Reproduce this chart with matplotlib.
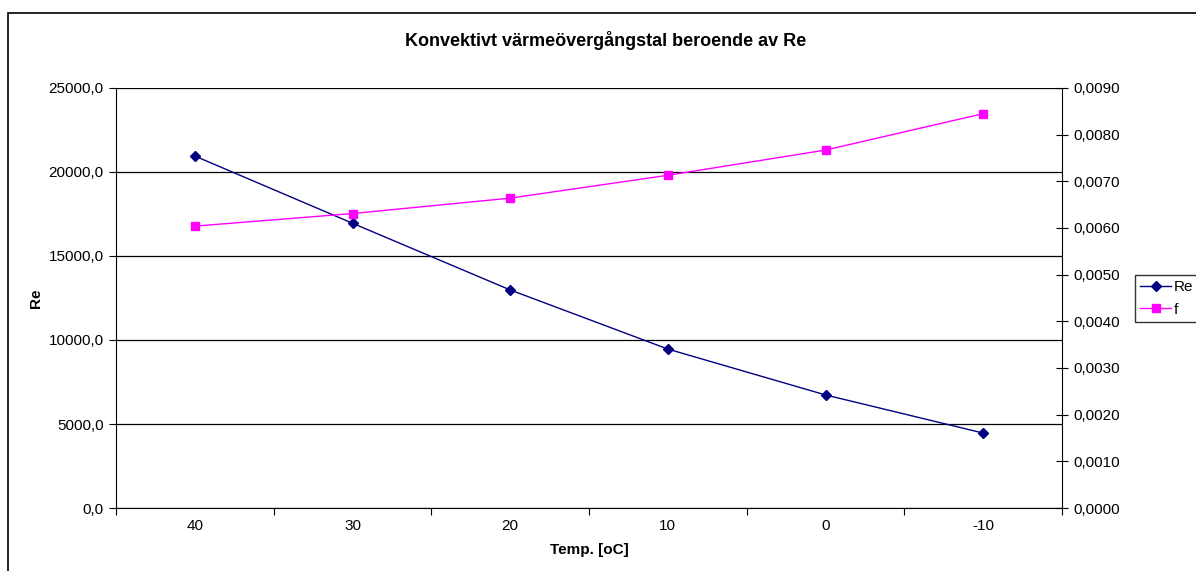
import matplotlib.pyplot as plt
from matplotlib.patches import Rectangle
from matplotlib.ticker import FuncFormatter, MultipleLocator, FixedLocator

plt.rcParams["font.family"] = ["Liberation Sans", "DejaVu Sans"]

temps = ["40", "30", "20", "10", "0", "-10"]
re_values = [20950, 16950, 12980, 9460, 6730, 4460]
f_values = [0.00604, 0.00631, 0.00664, 0.00713, 0.00767, 0.00845]

W, H = 1196, 571
fig = plt.figure(figsize=(W / 100, H / 100), dpi=100)

# outer chart border (runs off the right/bottom edge like the original)
fig.patches.append(Rectangle((8 / W, -0.1), 1.5, 1 - 13 / H + 0.1,
                             transform=fig.transFigure, fill=False,
                             edgecolor="black", linewidth=1.2, clip_on=False))

ax = fig.add_axes([116 / W, 1 - 508 / H, (1062 - 116) / W, (508 - 88) / H])
ax2 = ax.twinx()

x = [i + 0.5 for i in range(len(temps))]

ax.plot(x, re_values, color="#000080", marker="D", markersize=5,
        linewidth=1, label="Re")
ax2.plot(x, f_values, color="#FF00FF", marker="s", markersize=6,
         linewidth=1, label="f")

ax.set_xlim(0, len(temps))
ax.set_ylim(0, 25000)
ax2.set_ylim(0, 0.009)

# category axis: tick marks between categories, labels at centres
ax.xaxis.set_major_locator(FixedLocator(range(len(temps) + 1)))
ax.xaxis.set_minor_locator(FixedLocator(x))
ax.set_xticklabels([""] * (len(temps) + 1))
ax.set_xticklabels(temps, minor=True)
ax.tick_params(axis="x", which="major", length=5, direction="out")
ax.tick_params(axis="x", which="minor", length=0, pad=8, labelsize=11)

ax.yaxis.set_major_locator(MultipleLocator(5000))
ax.yaxis.set_major_formatter(FuncFormatter(lambda v, p: f"{v:.1f}".replace(".", ",")))
ax.tick_params(axis="y", length=5, direction="out", labelsize=11, pad=4)

ax2.yaxis.set_major_locator(MultipleLocator(0.001))
ax2.yaxis.set_major_formatter(FuncFormatter(lambda v, p: f"{v:.4f}".replace(".", ",")))
ax2.tick_params(axis="y", length=8, direction="inout", labelsize=11, pad=4)

ax.grid(axis="y", color="black", linewidth=0.9)
ax.set_axisbelow(True)
for a in (ax, ax2):
    a.spines["top"].set_visible(False)
ax.spines["right"].set_visible(False)
ax2.spines["left"].set_visible(False)
ax2.spines["bottom"].set_visible(False)
ax.axhline(25000, color="#808080", linewidth=1.2, zorder=0)

ax.set_xlabel("Temp. [oC]", fontsize=11, fontweight="bold", labelpad=7)
ax.set_ylabel("Re", fontsize=11, fontweight="bold", labelpad=4)

fig.text(0.506, 1 - 40 / H, "Konvektivt värmeövergångstal beroende av Re",
         ha="center", va="center", fontsize=13, fontweight="bold")

h1, l1 = ax.get_legend_handles_labels()
h2, l2 = ax2.get_legend_handles_labels()
leg = fig.legend(h1 + h2, l1 + l2, loc="upper left",
                 bbox_to_anchor=(1135 / W, 1 - 275 / H),
                 frameon=True, fancybox=False, fontsize=11,
                 handlelength=2.0, handletextpad=0.2, borderpad=0.35,
                 borderaxespad=0, labelspacing=0.55)
leg.get_frame().set_edgecolor("black")
leg.get_frame().set_linewidth(1)

fig.savefig("out.png", dpi=100)
